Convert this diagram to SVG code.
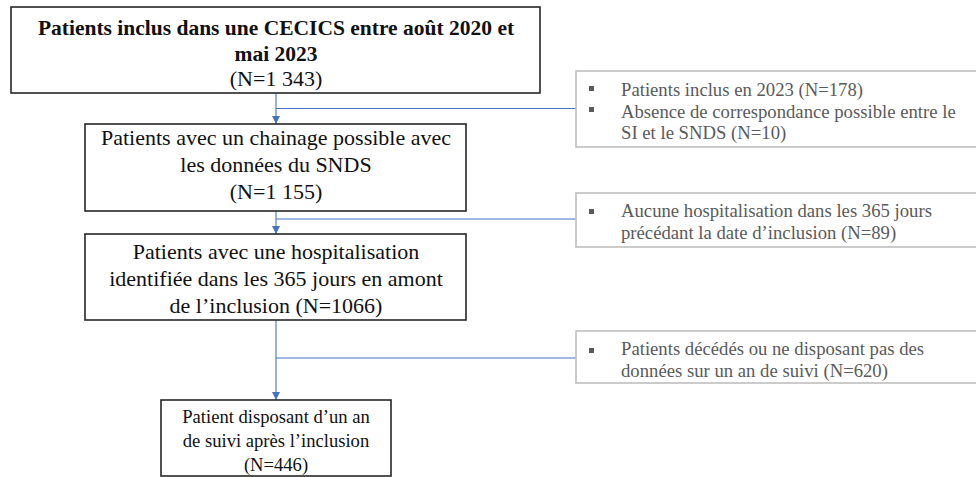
<svg xmlns="http://www.w3.org/2000/svg" width="976" height="477" viewBox="0 0 976 477">
<style>
.box{fill:#fff;stroke:#262626;stroke-width:1.6}
.side{fill:#fff;stroke:#bfbfbf;stroke-width:1.6}
.t{font-family:"Liberation Serif","Times New Roman",serif;fill:#111;text-anchor:middle}
.b{font-weight:bold;font-size:21.5px}
.m{font-size:22px}
.s{font-size:18.6px}
.g{font-family:"Liberation Serif","Times New Roman",serif;fill:#5a5a5a;font-size:18.7px}
.bul{fill:#5a5a5a}
.c{fill:none;stroke:#4472c4;stroke-width:1.1}
</style>
<defs>
<marker id="ah" viewBox="0 0 10 10" refX="10" refY="5" markerWidth="8" markerHeight="8" markerUnits="userSpaceOnUse" orient="auto">
<path d="M0,0 L10,5 L0,10 z" fill="#4472c4"/>
</marker>
</defs>
<g id="connectors">
<line class="c" x1="276" y1="93" x2="276" y2="124" marker-end="url(#ah)"/>
<line class="c" x1="276" y1="108.5" x2="577" y2="108.5"/>
<line class="c" x1="276" y1="211" x2="276" y2="234" marker-end="url(#ah)"/>
<line class="c" x1="276" y1="219" x2="577" y2="219"/>
<line class="c" x1="276" y1="320" x2="276" y2="400" marker-end="url(#ah)"/>
<line class="c" x1="276" y1="358" x2="577" y2="358"/>
</g>
<g id="n1">
<rect class="box" x="11" y="7" width="529" height="86"/>
<text class="t b" x="276" y="35">Patients inclus dans une CECICS entre août 2020 et</text>
<text class="t b" x="276" y="61">mai 2023</text>
<text class="t m" x="276" y="86">(N=1 343)</text>
</g>
<g id="n2">
<rect class="box" x="85" y="124" width="381" height="87"/>
<text class="t m" x="276" y="145">Patients avec un chainage possible avec</text>
<text class="t m" x="276" y="172">les données du SNDS</text>
<text class="t m" x="276" y="199">(N=1 155)</text>
</g>
<g id="n3">
<rect class="box" x="85" y="234" width="381" height="86"/>
<text class="t m" x="276" y="259">Patients avec une hospitalisation</text>
<text class="t m" x="276" y="286">identifiée dans les 365 jours en amont</text>
<text class="t m" x="276" y="313">de l’inclusion (N=1066)</text>
</g>
<g id="n4">
<rect class="box" x="161" y="400" width="230" height="76"/>
<text class="t s" x="276" y="423">Patient disposant d’un an</text>
<text class="t s" x="276" y="447">de suivi après l’inclusion</text>
<text class="t s" x="276" y="471">(N=446)</text>
</g>
<g id="e1">
<rect class="side" x="576" y="71" width="410" height="76"/>
<rect class="bul" x="589" y="86" width="5" height="5"/>
<rect class="bul" x="589" y="107" width="5" height="5"/>
<text class="g" x="621" y="96">Patients inclus en 2023 (N=178)</text>
<text class="g" x="621" y="118">Absence de correspondance possible entre le</text>
<text class="g" x="621" y="139">SI et le SNDS (N=10)</text>
</g>
<g id="e2">
<rect class="side" x="576" y="193" width="410" height="54"/>
<rect class="bul" x="589" y="209" width="5" height="5"/>
<text class="g" x="621" y="217">Aucune hospitalisation dans les 365 jours</text>
<text class="g" x="621" y="239">précédant la date d’inclusion (N=89)</text>
</g>
<g id="e3">
<rect class="side" x="576" y="331" width="410" height="52"/>
<rect class="bul" x="589" y="348" width="5" height="5"/>
<text class="g" x="621" y="355">Patients décédés ou ne disposant pas des</text>
<text class="g" x="621" y="377">données sur un an de suivi (N=620)</text>
</g>
</svg>
